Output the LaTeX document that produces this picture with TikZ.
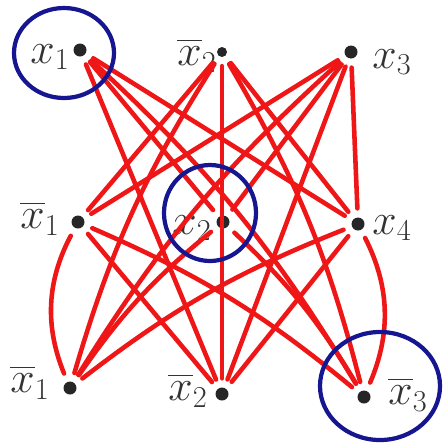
\documentclass[tikz,border=0pt]{standalone}
\usepackage{amsmath}
\usepackage{xcolor}
\usetikzlibrary{arrows.meta}
\definecolor{linkred}{RGB}{238,22,22}
\definecolor{ringblue}{RGB}{22,22,145}
\def\litsize{0.26cm}

\begin{document}
\begin{tikzpicture}[x=0.02cm, y=-0.02cm, line cap=round,
	lit/.style={circle, fill=black!85, inner sep=0pt, minimum size=\litsize},
	lbl/.style={font=\fontsize{27}{29}\selectfont, text=black!80, inner sep=0pt},
	link/.style={draw=linkred, line width=2.6pt, shorten <=5pt, shorten >=5pt},
	ring/.style={draw=ringblue, line width=2.4pt}]
	\useasboundingbox (0,0) rectangle (448,447);
	% clause 1
	\node[lit] (a1) at (80,50) {};
	\node[lit, minimum size=0.2cm] (a2) at (222,52) {};
	\node[lit] (a3) at (351,52) {};
	% clause 2
	\node[lit] (b1) at (78,222) {};
	\node[lit] (b2) at (223,222) {};
	\node[lit] (b3) at (358,224) {};
	% clause 3
	\node[lit] (c1) at (70,388) {};
	\node[lit] (c2) at (222,394) {};
	\node[lit] (c3) at (364,397) {};
	% labels
	\node[lbl] (la1) at (50,57) {$x_1$};
	\node[lbl] (la2) at (197,55) {$\overline{x}_2$};
	\node[lbl] (la3) at (392,62) {$x_3$};
	\node[lbl] (lb1) at (40,218) {$\overline{x}_1$};
	\node[lbl] (lb2) at (192,228) {$x_2$};
	\node[lbl] (lb3) at (392,228) {$x_4$};
	\node[lbl] (lc1) at (30,382) {$\overline{x}_1$};
	\node[lbl] (lc2) at (188,390) {$\overline{x}_2$};
	\node[lbl] (lc3) at (408,394) {$\overline{x}_3$};
	% links between clauses
	\foreach \u/\v in {a1/b2, a1/b3, a1/c2,
		a2/b1, a2/b3, a2/c2,
		a3/b1, a3/b2, a3/b3, a3/c2,
		b1/c2, b3/c2}
		\draw[link] (\u) -- (\v);
	% the hand-drawn ones that bow a little
	\foreach \u/\v in {c1/a2, c1/a3, c1/b2, c1/b3,
		a1/c3, a2/c3, b1/c3, b2/c3}
		\draw[link] (\u) to[bend left=8] (\v);
	\draw[link] (c1) to[bend left=25] (b1);
	\draw[link] (b3) to[bend left=25] (c3);
	% rings
	\draw[ring] (64,53) ellipse [x radius=50, y radius=45];
	\draw[ring] (210,213) ellipse [x radius=46, y radius=48];
	\draw[ring] (380,386) ellipse [x radius=60, y radius=54];
\end{tikzpicture}
\end{document}
